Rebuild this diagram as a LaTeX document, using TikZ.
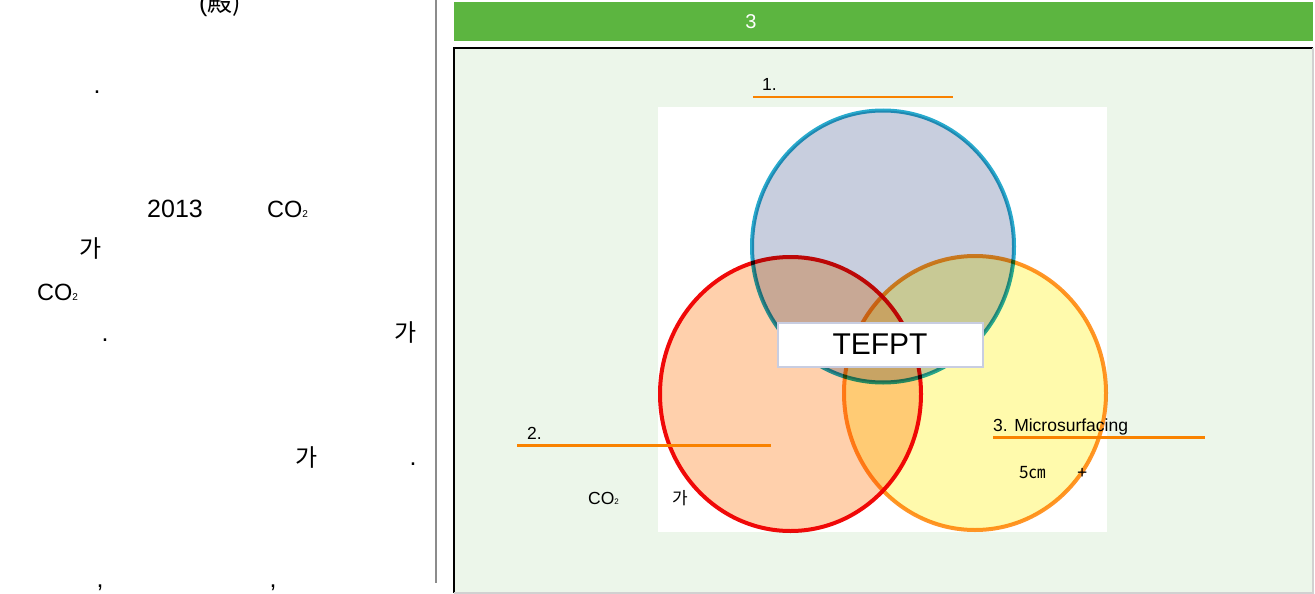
\documentclass[tikz,border=0pt]{standalone}
\usepackage{fontspec}
\setmainfont{Liberation Sans}
\newfontfamily\kr{Noto Sans CJK KR}
\definecolor{barGreen}{RGB}{92,181,64}
\definecolor{panelGreen}{RGB}{236,246,234}
\definecolor{lineOrange}{RGB}{249,130,0}
\definecolor{blueEdge}{RGB}{40,170,205}
\definecolor{blueFill}{RGB}{200,206,222}
\definecolor{redEdge}{RGB}{240,10,10}
\definecolor{redFill}{RGB}{255,208,172}
\definecolor{orEdge}{RGB}{255,150,40}
\definecolor{orFill}{RGB}{255,250,172}
\definecolor{boxEdge}{RGB}{200,205,225}
\definecolor{ruleGray}{RGB}{140,140,140}
\tikzset{
  bigtxt/.style={inner sep=0pt, font=\fontsize{25}{25}\selectfont},
  krbig/.style={inner sep=0pt, font=\kr\fontsize{24}{24}\selectfont},
  lbl/.style={inner sep=0pt, font=\fontsize{17.5}{17.5}\selectfont, anchor=base west},
  uline/.style={draw=lineOrange, line width=2.5pt},
  venn/.style={line width=4pt, blend mode=multiply},
}
\newcommand{\bigsub}{\fontsize{10}{10}\selectfont 2}
\newcommand{\smallsub}{\fontsize{8}{8}\selectfont 2}
\begin{document}
\begin{tikzpicture}[x=1pt,y=-1pt]
\useasboundingbox (0,0) rectangle (1315,594);
\fill[white] (0,0) rectangle (1315,594);
% column rule
\coordinate (ruletop) at (435.5,0);
\coordinate (rulebot) at (435.5,583);
\draw[ruleGray, line width=2pt] (ruletop) -- (rulebot);

% ---------- left column text ----------
\node[bigtxt, anchor=base] (hanja) at (220,12) {(\kr 殿)};
\node[bigtxt, anchor=base] (dot1) at (97,93) {.};
\node[bigtxt, anchor=base west] (yr) at (147,217) {2013};
\node[bigtxt, anchor=base west, font=\fontsize{23.5}{23.5}\selectfont] (co2a) at (267,217) {CO\bigsub};
\node[krbig] (ga1) at (91,248) {가};
\node[bigtxt, anchor=base west, font=\fontsize{23.5}{23.5}\selectfont] (co2c) at (37,300) {CO\bigsub};
\node[bigtxt, anchor=base] (dot2) at (105,341) {.};
\node[krbig] (ga2) at (406,332) {가};
\node[krbig] (ga3) at (307,457) {가};
\node[bigtxt, anchor=base] (dot3) at (413,465) {.};
\node[bigtxt, anchor=base] (comma1) at (100,587) {,};
\node[bigtxt, anchor=base] (comma2) at (273,587) {,};

% ---------- right panel ----------
\node[fill=barGreen, minimum width=859pt, minimum height=39pt, anchor=north west, inner sep=0pt] (bar) at (454,2) {};
\node[inner sep=0pt, text=white, font=\fontsize{20}{20}\selectfont] (bartitle) at (751,22) {3};

\fill[panelGreen] (454,48) rectangle (1313,593);
\draw[black, line width=1.5pt] (454,593) -- (454,48) -- (1313,48);
\draw[black!18, line width=1.5pt] (1313,48) -- (1313,593) -- (454,593);

% white picture area
\fill[white] (658,107) rectangle (1107,532);

% Venn circles
\draw[venn, draw=blueEdge, fill=blueFill] (883,246.5) ellipse [x radius=131, y radius=136];
\draw[venn, draw=redEdge, fill=redFill] (790.5,394) ellipse [x radius=130.5, y radius=137];
\draw[venn, draw=orEdge, fill=orFill] (975,393) ellipse [x radius=131, y radius=137];

% centre label
\node[draw=boxEdge, fill=white, line width=2pt, minimum width=205pt, minimum height=44pt, inner sep=0pt, font=\fontsize{30}{30}\selectfont] (tefpt) at (880,344.5) {TEFPT};

% labels with orange underlines
\node[lbl] (l1) at (762,91) {1.};
\coordinate (l1a) at (753,97);
\coordinate (l1b) at (953,97);
\draw[uline] (l1a) -- (l1b);

\node[lbl] (l2) at (527,439) {2.};
\coordinate (l2a) at (517,445.5);
\coordinate (l2b) at (771,445.5);
\draw[uline] (l2a) -- (l2b);

\node[lbl] (l3) at (993,431) {3. Microsurfacing};
\coordinate (l3a) at (993,437.5);
\coordinate (l3b) at (1205,437.5);
\draw[uline] (l3a) -- (l3b);

\node[lbl, font=\kr\fontsize{17}{17}\selectfont] (cm) at (1019,478) {5㎝};
\node[lbl] (plus) at (1077,478.5) {+};
\node[lbl] (co2b) at (588,504) {CO\smallsub};
\node[inner sep=0pt, font=\kr\fontsize{17}{17}\selectfont] (gab) at (680,498) {가};
\end{tikzpicture}
\end{document}
